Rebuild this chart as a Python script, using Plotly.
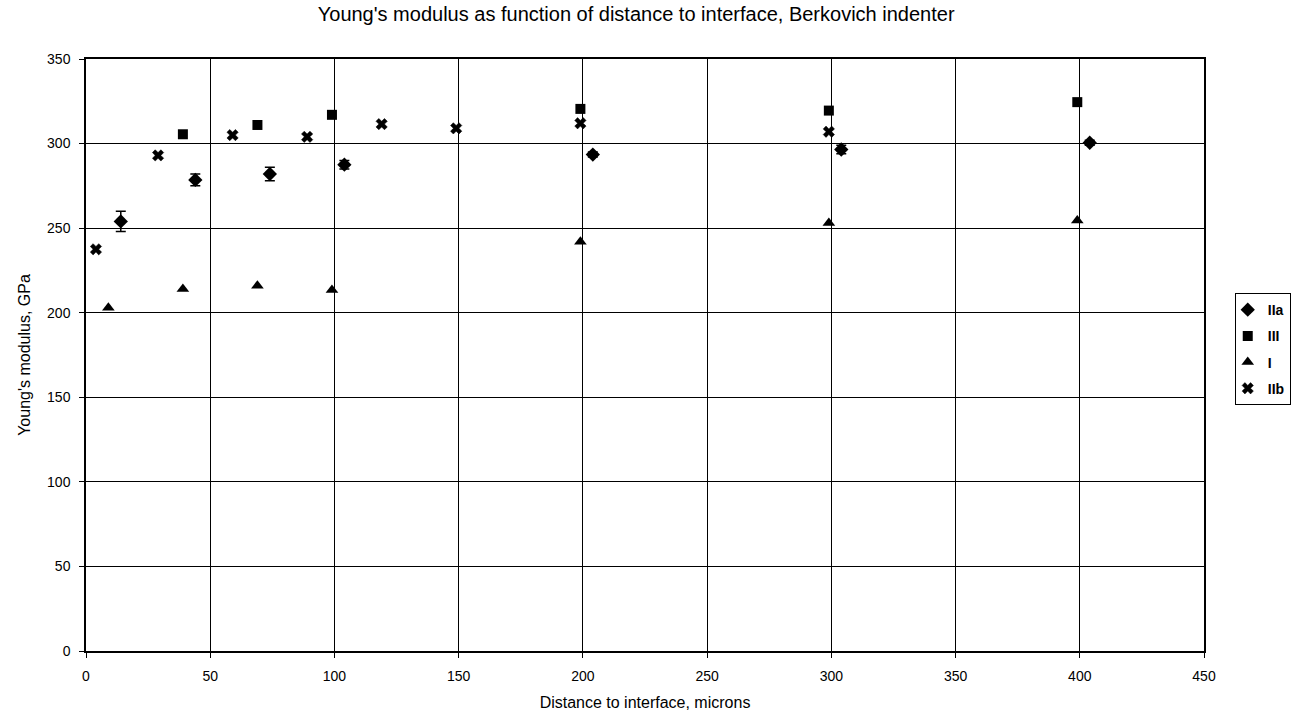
import plotly.graph_objects as go

# Data
x_IIa = [14, 44, 74, 104, 204, 304, 404]
y_IIa = [254, 278.5, 282, 287.5, 293.5, 296.5, 300.5]
e_IIa = [6, 3.5, 4, 2.5, 1.5, 2.5, 1.5]

x_III = [39, 69, 99, 199, 299, 399]
y_III = [305.5, 311, 317, 320.5, 319.5, 324.5]

x_I = [9, 39, 69, 99, 199, 299, 399]
y_I = [203, 214, 216, 213.5, 242, 253, 254.5]

x_IIb = [4, 29, 59, 89, 119, 149, 199, 299]
y_IIb = [237.5, 293, 305, 304, 311.5, 309, 312, 307]

x_ticks = [0, 50, 100, 150, 200, 250, 300, 350, 400, 450]
y_ticks = [0, 50, 100, 150, 200, 250, 300, 350]

FONT = "Liberation Sans, Arial, sans-serif"

fig = go.Figure()
fig.add_trace(go.Scatter(
    x=x_IIa, y=y_IIa, mode="markers", name="IIa", legendgroup="a",
    marker=dict(symbol="diamond", size=11, color="black"),
    error_y=dict(type="data", array=e_IIa, visible=True, color="black",
                 thickness=1.5, width=5),
))
fig.add_trace(go.Scatter(
    x=x_III, y=y_III, mode="markers", name="III", legendgroup="b",
    marker=dict(symbol="square", size=10, color="black"),
))
fig.add_trace(go.Scatter(
    x=x_I, y=y_I, mode="markers", name="I", legendgroup="c",
    marker=dict(symbol="triangle-up", size=11, color="black"),
))
fig.add_trace(go.Scatter(
    x=x_IIb, y=y_IIb, mode="markers", name="IIb", legendgroup="d",
    marker=dict(symbol="x", size=10, color="black",
                line=dict(width=0.5, color="black")),
))

fig.update_layout(
    width=1293, height=720,
    margin=dict(l=86, r=89, t=59, b=69, autoexpand=False),
    paper_bgcolor="white", plot_bgcolor="white",
    font=dict(family=FONT, size=14, color="black"),
    title=dict(text="Young's modulus as function of distance to interface, Berkovich indenter",
               x=0.492, xanchor="center", y=0.99, yanchor="top",
               font=dict(size=20, family=FONT)),
    showlegend=True,
    legend=dict(x=1.0275, y=0.51, xanchor="left", yanchor="middle",
                bordercolor="black", borderwidth=1, bgcolor="white",
                font=dict(size=14, family=FONT, weight="bold"),
                itemwidth=30, tracegroupgap=5, indentation=-8),
)
fig.update_xaxes(
    range=[0, 450], tickvals=x_ticks, ticktext=[str(v) for v in x_ticks],
    showgrid=True, gridcolor="black", gridwidth=1,
    showline=True, linecolor="black", linewidth=1.5, mirror=True,
    ticks="outside", ticklen=5, tickcolor="black", ticklabelstandoff=6,
    zeroline=False,
    title=dict(text="Distance to interface, microns", font=dict(size=16), standoff=14),
)
fig.update_yaxes(
    range=[0, 350], tickvals=y_ticks, ticktext=[str(v) for v in y_ticks],
    showgrid=True, gridcolor="black", gridwidth=1,
    showline=True, linecolor="black", linewidth=1.5, mirror=True,
    ticks="outside", ticklen=5, tickcolor="black", ticklabelstandoff=6,
    zeroline=False,
    title=dict(text="Young's modulus, GPa", font=dict(size=16), standoff=12),
)

fig.write_html("out.html")
